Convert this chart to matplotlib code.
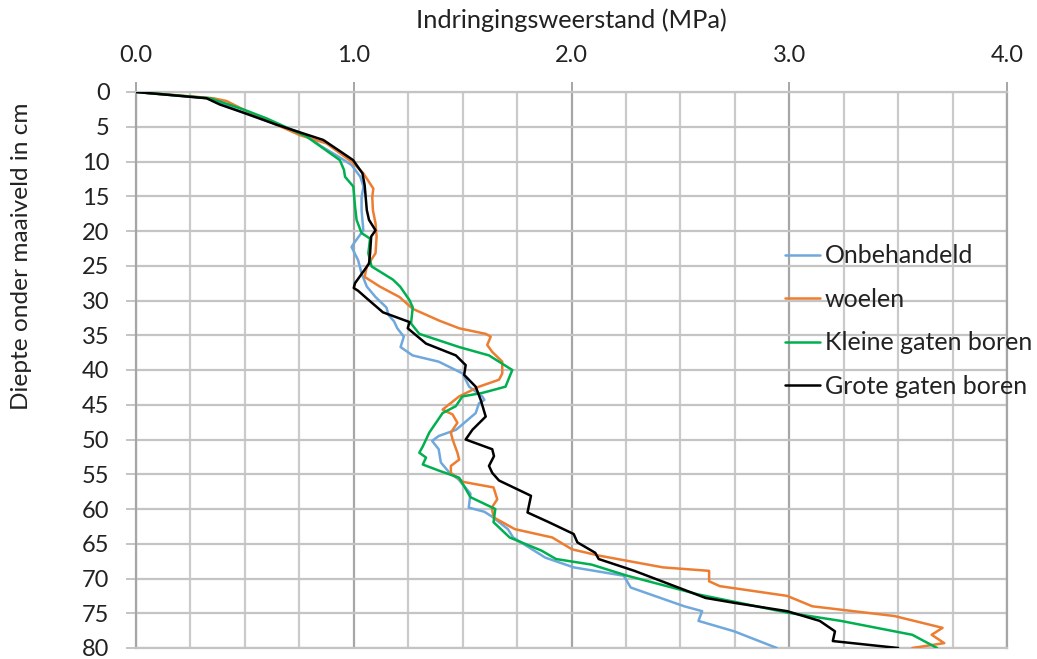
import matplotlib
matplotlib.use("Agg")
import matplotlib.pyplot as plt
from matplotlib.ticker import MultipleLocator

plt.rcParams["font.family"] = ["Lato", "DejaVu Sans"]

# Diepte (cm) en indringingsweerstand (MPa) per behandeling
diepte_onbehandeld = [0, 0.9, 3.3, 5.8, 6.9, 7.8, 9.3, 10.5, 12.2, 13.6, 15.1, 17, 19.9, 21.8, 22.3,
                      24.2, 26.1, 28, 29.5, 31, 32.1, 33, 34, 35.2, 36.7, 37.9, 38.8, 40.5, 42.4, 43.8,
                      44.3, 44.8, 46.2, 48.6, 49.5, 50.2, 51.4, 53.3, 54.8, 55.7, 57.8, 59.8, 60.4,
                      61.2, 62.9, 64.1, 67, 68.4, 69.6, 71.3, 74, 74.7, 76.1, 77.6, 80]
mpa_onbehandeld = [0, 0.33, 0.52, 0.75, 0.81, 0.85, 0.93, 0.99, 1.03, 1.045, 1.036, 1.036, 1.044, 1.0,
                   0.99, 1.02, 1.036, 1.06, 1.10, 1.15, 1.16, 1.185, 1.2, 1.23, 1.215, 1.27, 1.39, 1.50,
                   1.53, 1.59, 1.60, 1.575, 1.56, 1.47, 1.39, 1.36, 1.39, 1.40, 1.44, 1.48, 1.536, 1.528,
                   1.60, 1.64, 1.708, 1.732, 1.88, 2.01, 2.24, 2.272, 2.518, 2.6, 2.583, 2.747, 2.943]

diepte_woelen = [0, 0.9, 1.3, 3.0, 6.2, 7.4, 10.2, 11.7, 13.9, 15.1, 17, 18.9, 20.8, 23.2, 25.1, 26.6,
                 28, 29.5, 31.2, 32.9, 34, 34.8, 35.2, 36.4, 37.4, 38.8, 40.5, 41.4, 42.4, 43.8, 45.7,
                 46.4, 47.6, 49, 50, 51.9, 52.9, 53.8, 54.8, 56.1, 56.9, 58.6, 59.8, 61.2, 62.9, 64.1,
                 65.8, 66.7, 68.4, 68.9, 70.4, 71.1, 72.5, 74, 75.4, 77.1, 78.1, 79.3, 80]
mpa_woelen = [0, 0.355, 0.416, 0.523, 0.752, 0.875, 0.997, 1.044, 1.09, 1.085, 1.088, 1.10, 1.105, 1.10,
              1.06, 1.05, 1.12, 1.21, 1.271, 1.393, 1.484, 1.606, 1.629, 1.613, 1.636, 1.682, 1.682,
              1.667, 1.575, 1.484, 1.408, 1.454, 1.476, 1.446, 1.454, 1.476, 1.484, 1.446, 1.446, 1.503,
              1.642, 1.659, 1.634, 1.642, 1.74, 1.912, 2.002, 2.125, 2.42, 2.632, 2.632, 2.681, 2.99,
              3.106, 3.483, 3.704, 3.654, 3.712, 3.565]

diepte_klein = [0, 0.9, 2.5, 3.8, 6.4, 9.8, 11.2, 12.2, 13.6, 16.5, 18.4, 20.3, 21.1, 23.2, 25.1, 27,
                28, 29.9, 31, 33.3, 34.8, 36.7, 37.9, 40, 42.4, 43.3, 43.8, 45.2, 46.2, 49, 51, 51.9,
                52.6, 53.6, 54.5, 55.5, 58.3, 60, 61.9, 64.1, 66, 67.2, 68, 69.6, 72.3, 74.9, 76.1,
                78.1, 80]
mpa_klein = [0, 0.34, 0.492, 0.6, 0.783, 0.936, 0.955, 0.96, 0.998, 1.006, 1.013, 1.036, 1.075, 1.067,
             1.082, 1.18, 1.213, 1.255, 1.271, 1.263, 1.301, 1.484, 1.621, 1.728, 1.697, 1.59, 1.499,
             1.469, 1.408, 1.347, 1.317, 1.301, 1.332, 1.317, 1.393, 1.484, 1.536, 1.65, 1.642, 1.716,
             1.863, 1.929, 2.092, 2.256, 2.583, 2.99, 3.237, 3.565, 3.679]

diepte_groot = [0, 0.9, 1.8, 3.3, 4.7, 5.8, 6.9, 8.5, 9.8, 11.7, 13.4, 17, 18.4, 19.9, 20.8, 23.2, 24.7,
                27.5, 28.2, 28.6, 29.7, 31.7, 33.1, 34, 36.2, 37.9, 39.3, 40.7, 42.4, 44.3, 46.7, 48.6,
                50, 51.4, 52.4, 53.8, 54.8, 55.9, 58.1, 60.5, 61.9, 63.6, 64.8, 66.3, 67.2, 68.9, 72.8,
                73.5, 74.7, 76.1, 77.6, 79, 80]
mpa_groot = [0, 0.324, 0.385, 0.523, 0.645, 0.752, 0.86, 0.936, 0.997, 1.04, 1.05, 1.06, 1.07, 1.10,
             1.08, 1.075, 1.07, 1.006, 1.0, 1.02, 1.06, 1.134, 1.256, 1.248, 1.332, 1.469, 1.514, 1.507,
             1.56, 1.583, 1.606, 1.545, 1.514, 1.636, 1.644, 1.621, 1.636, 1.667, 1.814, 1.798, 1.896,
             2.01, 2.027, 2.109, 2.125, 2.289, 2.616, 2.747, 2.99, 3.14, 3.21, 3.2, 3.5]

reeksen = [
    ("Onbehandeld", mpa_onbehandeld, diepte_onbehandeld, "#6FA8DC"),
    ("woelen", mpa_woelen, diepte_woelen, "#ED7D31"),
    ("Kleine gaten boren", mpa_klein, diepte_klein, "#00B050"),
    ("Grote gaten boren", mpa_groot, diepte_groot, "#000000"),
]

W, H = 1037, 659
fig = plt.figure(figsize=(W / 100, H / 100), dpi=100)
ax = fig.add_axes([136 / W, 1 - 648 / H, (1007 - 136) / W, (648 - 92) / H])

for naam, x, y, kleur in reeksen:
    ax.plot(x, y, color=kleur, lw=1.8, label=naam, zorder=3,
            solid_joinstyle="round", solid_capstyle="round")

ax.set_xlim(0, 4)
ax.set_ylim(80, 0)
ax.xaxis.tick_top()
ax.xaxis.set_major_locator(MultipleLocator(1))
ax.xaxis.set_minor_locator(MultipleLocator(0.25))
ax.yaxis.set_major_locator(MultipleLocator(5))
ax.xaxis.set_major_formatter(lambda v, p: f"{v:.1f}")

ax.grid(which="major", axis="x", color="#A6A6A6", lw=1.6)
ax.grid(which="minor", axis="x", color="#CACACA", lw=1.6)
ax.grid(which="major", axis="y", color="#C4C4C4", lw=1.6)
ax.set_axisbelow(True)

ax.tick_params(axis="x", which="major", length=7, width=1.4, color="#A6A6A6",
               labelsize=17, labelcolor="#222222", pad=12)
ax.tick_params(axis="x", which="minor", length=0)
ax.tick_params(axis="y", length=7, width=1.4, color="#C4C4C4",
               labelsize=17, labelcolor="#222222", pad=12)

for kant, spine in ax.spines.items():
    spine.set_linewidth(1.6)
    spine.set_color("#A6A6A6" if kant in ("left", "right") else "#C4C4C4")

fig.text(571 / W, 1 - 20 / H, "Indringingsweerstand (MPa)", ha="center", va="center",
         fontsize=18.3, color="#222222")
fig.text(22 / W, 1 - 256 / H, "Diepte onder maaiveld in cm", ha="center", va="center",
         rotation=90, fontsize=17.6, color="#222222")

leg = ax.legend(loc="center left", bbox_to_anchor=(785 / W, 1 - 321 / H),
                bbox_transform=fig.transFigure, frameon=False, fontsize=18,
                handlelength=1.4, handletextpad=0.2, labelspacing=0.82,
                borderpad=0, borderaxespad=0)
for t in leg.get_texts():
    t.set_color("#222222")

fig.savefig("out.png", dpi=100)
